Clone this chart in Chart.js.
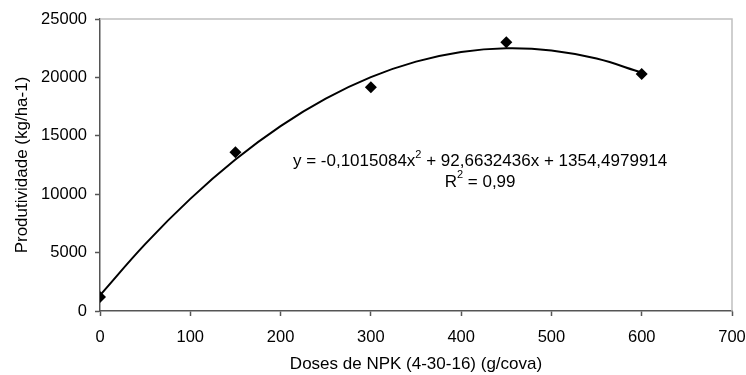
<!DOCTYPE html>
<html>
<head>
<meta charset="utf-8">
<script src="https://cdn.jsdelivr.net/npm/chart.js@4"></script>
<style>
  html, body { margin: 0; padding: 0; background: #fff; }
  #wrap { width: 746px; height: 375px; }
</style>
</head>
<body>
<div id="wrap"><canvas id="chart"></canvas></div>
<script>
'use strict';

// observed doses and yields
const doses = [0, 150, 300, 450, 600];
const yields = [1200, 13600, 19150, 23000, 20300];

// trend curve
const trendX = [0, 50, 100, 150, 200, 250, 300, 350, 400, 450, 500, 550, 600];
const trendY = [1350, 5730, 9600, 12970, 15830, 18180, 20020, 21350, 22180, 22500, 22310, 21610, 20410];

const xTicks = [0, 100, 200, 300, 400, 500, 600, 700];
const yTicks = [0, 5000, 10000, 15000, 20000, 25000];

const equation = ['y = -0,1015084x', '2', ' + 92,6632436x + 1354,4979914'];
const rSquared = ['R', '2', ' = 0,99'];

const FONT = 'Arial, "Liberation Sans", sans-serif';

const toXY = (xs, ys) => xs.map((x, i) => ({ x, y: ys[i] }));

/**
 * Light frame on top/right, plus the trendline equation text.
 */
const extras = {
  id: 'extras',
  beforeDatasetsDraw(chart) {
    const { ctx, chartArea: a } = chart;
    ctx.save();
    ctx.strokeStyle = '#c0c0c0';
    ctx.lineWidth = 1.5;
    ctx.beginPath();
    ctx.moveTo(a.left, a.top);
    ctx.lineTo(a.right, a.top);
    ctx.lineTo(a.right, a.bottom);
    ctx.stroke();
    ctx.restore();
  },
  afterDraw(chart) {
    const { ctx, scales } = chart;
    const cx = scales.x.getPixelForValue(421);
    const drawSup = (parts, cy) => {
      ctx.font = `17px ${FONT}`;
      const w0 = ctx.measureText(parts[0]).width;
      const w2 = ctx.measureText(parts[2]).width;
      ctx.font = `11px ${FONT}`;
      const w1 = ctx.measureText(parts[1]).width;
      let x = cx - (w0 + w1 + w2) / 2;
      ctx.fillStyle = '#000';
      ctx.textBaseline = 'middle';
      ctx.textAlign = 'left';
      ctx.font = `17px ${FONT}`;
      ctx.fillText(parts[0], x, cy);
      x += w0;
      ctx.font = `11px ${FONT}`;
      ctx.fillText(parts[1], x, cy - 7);
      x += w1;
      ctx.font = `17px ${FONT}`;
      ctx.fillText(parts[2], x, cy);
    };
    ctx.save();
    drawSup(equation, scales.y.getPixelForValue(12800));
    drawSup(rSquared, scales.y.getPixelForValue(11050));
    ctx.restore();
  },
};

new Chart(document.getElementById('chart'), {
  type: 'scatter',
  data: {
    datasets: [
      {
        label: 'Produtividade',
        data: toXY(doses, yields),
        pointStyle: 'rectRot',
        radius: 6,
        backgroundColor: '#000',
        borderColor: '#000',
        borderWidth: 0,
      },
      {
        label: 'Tendência',
        type: 'line',
        data: toXY(trendX, trendY),
        borderColor: '#000',
        borderWidth: 2,
        pointRadius: 0,
        tension: 0.4,
        fill: false,
      },
    ],
  },
  options: {
    responsive: true,
    maintainAspectRatio: false,
    animation: false,
    layout: { padding: { top: 19, right: 14, left: 0, bottom: 0 } },
    plugins: {
      legend: { display: false },
      tooltip: { enabled: false },
    },
    scales: {
      x: {
        type: 'linear',
        min: 0,
        max: 700,
        afterBuildTicks: (s) => { s.ticks = xTicks.map(v => ({ value: v })); },
        afterFit: (s) => { s.height = 64; s.paddingLeft = 0; s.paddingRight = 0; },
        grid: { drawOnChartArea: false, color: '#555', tickLength: 5, tickWidth: 1.5 },
        border: { color: '#555', width: 1.5 },
        ticks: { color: '#000', font: { family: FONT, size: 16.5 }, padding: 12, callback: (v) => String(v) },
        title: {
          display: true,
          text: 'Doses de NPK (4-30-16) (g/cova)',
          color: '#000',
          font: { family: FONT, size: 17 },
          padding: { top: 0, bottom: 0 },
        },
      },
      y: {
        min: 0,
        max: 25000,
        afterBuildTicks: (s) => { s.ticks = yTicks.map(v => ({ value: v })); },
        afterFit: (s) => { s.width = 100; s.paddingTop = 0; s.paddingBottom = 0; },
        grid: { drawOnChartArea: false, color: '#555', tickLength: 5, tickWidth: 1.5 },
        border: { color: '#555', width: 1.5 },
        ticks: { color: '#000', font: { family: FONT, size: 16.5 }, padding: 8, callback: (v) => String(v) },
        title: {
          display: true,
          text: 'Produtividade (kg/ha-1)',
          color: '#000',
          font: { family: FONT, size: 17 },
          padding: { top: 12, bottom: 0 },
        },
      },
    },
  },
  plugins: [extras],
});
</script>
</body>
</html>
